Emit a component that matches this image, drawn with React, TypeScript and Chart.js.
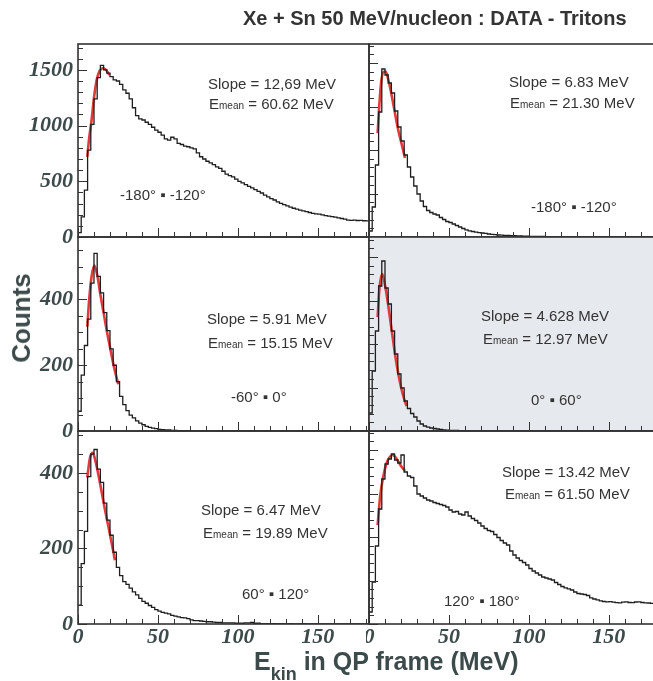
import React, { useEffect, useRef } from "react";
import { Chart, registerables } from "chart.js";

Chart.register(...registerables);

// ---------------- DATA ----------------
const BIN_WIDTH = 2; // MeV per bin, bins start at 0
const X_MAX = 182;
const xTickLabels = [0, 50, 100, 150];

// top-left: -180° - -120°
const countsA = [
  40, 180, 420, 780, 1010, 1240, 1430, 1540, 1500, 1470, 1440, 1410, 1400, 1370, 1320, 1290,
  1240, 1160, 1090, 1060, 1050, 1030, 1010, 985, 960, 940, 915, 880, 870, 895, 880, 840,
  830, 815, 810, 800, 790, 755, 720, 700, 680, 665, 650, 630, 615, 590, 565, 550,
  540, 520, 500, 485, 470, 455, 440, 425, 410, 395, 375, 360, 345, 332, 315, 302,
  290, 280, 268, 258, 250, 242, 235, 228, 220, 212, 208, 205, 198, 192, 188, 182,
  178, 172, 166, 160, 152, 150, 151, 148, 150, 146, 145,
];
const fitXA = [5.8, 7, 8.5, 10, 11.7, 13.5, 15.8, 17.5, 19.6];
const fitYA = [720, 890, 1050, 1250, 1410, 1490, 1515, 1500, 1455];
const yTickLabelsA = [0, 500, 1000, 1500];

// top-right: -180° - -120° (arbitrary units)
const countsB = [
  60, 300, 720, 1250, 1680, 1620, 1540, 1440, 1260, 1100, 960, 820, 700, 600, 510, 430,
  360, 305, 265, 245, 230, 220, 195, 175, 155, 145, 130, 115, 100, 85, 72, 62,
  55, 48, 44, 40, 36, 30, 26, 24, 20, 18, 16, 15, 14, 13, 12, 10,
  9, 8, 7, 6, 6, 5, 5, 4, 4, 3, 3, 3, 2, 2, 2, 2,
  1, 1, 1, 1, 1, 1, 1, 0, 0, 0, 0, 0, 0, 0, 0, 0,
  0, 0, 0, 0, 0, 0, 0, 0, 0, 0, 0,
];
const fitXB = [5.4, 6.5, 7.7, 9, 10.4, 12, 14, 16, 18, 20.4, 22.5];
const fitYB = [1040, 1330, 1560, 1650, 1655, 1580, 1430, 1260, 1090, 930, 790];

// middle-left: -60° - 0°
const countsC = [
  60, 170, 260, 340, 450, 540, 470, 420, 360, 305, 250, 200, 150, 105, 80, 62,
  48, 40, 31, 24, 19, 14, 11, 9, 7, 5, 4, 3, 3, 2, 2, 1,
  1, 1, 0, 0, 0, 0, 0, 0, 0, 0, 0, 0, 0, 0, 0, 0,
  0, 0, 0, 0, 0, 0, 0, 0, 0, 0, 0, 0, 0, 0, 0, 0,
  0, 0, 0, 0, 0, 0, 0, 0, 0, 0, 0, 0, 0, 0, 0, 0,
  0, 0, 0, 0, 0, 0, 0, 0, 0, 0, 0,
];
const fitXC = [5.8, 7, 8.5, 10.2, 12, 14, 16, 18, 20, 22.5, 25.2];
const fitYC = [317, 400, 470, 503, 475, 415, 360, 305, 255, 195, 142];
const yTickLabelsC = [0, 200, 400];

// middle-right: 0° - 60° (arbitrary units)
const countsD = [
  180, 600, 1000, 1450, 1700, 1430, 1270, 1000, 770, 570, 430, 300, 225, 175, 140, 100,
  70, 50, 38, 30, 25, 20, 15, 12, 9, 7, 6, 5, 4, 3, 3, 2,
  2, 1, 1, 1, 0, 0, 0, 0, 0, 0, 0, 0, 0, 0, 0, 0,
  0, 0, 0, 0, 0, 0, 0, 0, 0, 0, 0, 0, 0, 0, 0, 0,
  0, 0, 0, 0, 0, 0, 0, 0, 0, 0, 0, 0, 0, 0, 0, 0,
  0, 0, 0, 0, 0, 0, 0, 0, 0, 0, 0,
];
const fitXD = [5.4, 6.5, 8.3, 10, 12, 14, 16, 18, 20, 22, 23.5];
const fitYD = [1140, 1420, 1570, 1460, 1260, 1030, 800, 600, 440, 320, 250];

// bottom-left: 60° - 120°
const countsE = [
  50, 160, 245, 390, 450, 462, 410, 375, 320, 275, 235, 190, 150, 128, 112, 105,
  95, 85, 77, 68, 60, 55, 49, 44, 38, 34, 31, 29, 27, 23, 21, 19,
  17, 16, 14, 11, 9, 9, 8, 7, 6, 6, 5, 4, 4, 3, 3, 3,
  3, 2, 2, 2, 3, 3, 4, 2, 2, 1, 1, 1, 1, 1, 0, 1,
  0, 0, 1, 0, 0, 0, 1, 0, 0, 0, 0, 0, 0, 0, 0, 0,
  0, 0, 0, 0, 0, 0, 0, 0, 0, 0, 0,
];
const fitXE = [5.8, 7.5, 9.2, 11, 13, 15, 17, 19, 21, 23.1];
const fitYE = [388, 440, 453, 430, 390, 345, 300, 258, 215, 169];
const yTickLabelsE = [0, 200, 400];

// bottom-right: 120° - 180° (arbitrary units)
const countsF = [
  120, 420, 780, 1150, 1450, 1600, 1650, 1700, 1640, 1610, 1690, 1520, 1480, 1465, 1380, 1300,
  1280, 1260, 1240, 1230, 1215, 1205, 1195, 1185, 1170, 1140, 1120, 1125, 1100, 1090, 1120, 1080,
  1055, 1035, 1010, 980, 955, 935, 925, 895, 865, 835, 810, 790, 730, 690, 660, 635,
  615, 590, 555, 530, 510, 490, 470, 460, 450, 440, 415, 395, 375, 362, 352, 340,
  320, 305, 300, 295, 285, 262, 250, 242, 232, 225, 222, 224, 218, 214, 212, 218,
  222, 215, 213, 220, 222, 215, 212, 210, 207, 210, 208,
];
const fitXF = [5.4, 7, 9, 11, 13, 14.6, 16.5, 18.5, 20.5, 22.5];
const fitYF = [990, 1280, 1480, 1610, 1670, 1690, 1670, 1620, 1570, 1530];

const slopeLabels = ["Slope = 12,69 MeV", "Slope = 6.83 MeV", "Slope = 5.91 MeV", "Slope = 4.628 MeV", "Slope = 6.47 MeV", "Slope = 13.42 MeV"];
const emeanValues = ["60.62", "21.30", "15.15", "12.97", "19.89", "61.50"];
const angleLabels = ["-180° ▪ -120°", "-180° ▪ -120°", "-60° ▪ 0°", "0° ▪ 60°", "60° ▪ 120°", "120° ▪ 180°"];

// ---------------- LAYOUT ----------------
const W = 653;
const H = 681;
const COLS = [[78, 369], [369, 660]];
const ROWS = [[44, 237], [237, 431], [431, 624]];
const X_AXIS_H = 30;
const Y_AXIS_W = 78;
const PAD = 3;
const PAD_V = 16;

type PanelCfg = {
  counts: number[];
  fitX: number[];
  fitY: number[];
  yLabels: number[];
  row: number;
  col: number;
  yMax: number;
  minorStep: number;
  majorEvery: number;
  shaded?: boolean;
  text: { slope: [number, number]; emean: [number, number]; angle: [number, number] };
};

const panels: PanelCfg[] = [
  { counts: countsA, fitX: fitXA, fitY: fitYA, yLabels: yTickLabelsA, row: 0, col: 0, yMax: 1732, minorStep: 100, majorEvery: 5,
    text: { slope: [208, 83], emean: [209, 103], angle: [120, 194] } },
  { counts: countsB, fitX: fitXB, fitY: fitYB, yLabels: [], row: 0, col: 1, yMax: 1930, minorStep: 87, majorEvery: 5,
    text: { slope: [509, 81], emean: [510, 102], angle: [531, 206] } },
  { counts: countsC, fitX: fitXC, fitY: fitYC, yLabels: yTickLabelsC, row: 1, col: 0, yMax: 590, minorStep: 50, majorEvery: 4,
    text: { slope: [207, 318], emean: [208, 342], angle: [231, 396] } },
  { counts: countsD, fitX: fitXD, fitY: fitYD, yLabels: [], row: 1, col: 1, yMax: 1940, minorStep: 87, majorEvery: 5, shaded: true,
    text: { slope: [481, 315], emean: [483, 338], angle: [531, 399] } },
  { counts: countsE, fitX: fitXE, fitY: fitYE, yLabels: yTickLabelsE, row: 2, col: 0, yMax: 511, minorStep: 50, majorEvery: 4,
    text: { slope: [201, 509], emean: [203, 532], angle: [242, 593] } },
  { counts: countsF, fitX: fitXF, fitY: fitYF, yLabels: [], row: 2, col: 1, yMax: 1930, minorStep: 87, majorEvery: 5,
    text: { slope: [502, 471], emean: [505, 493], angle: [444, 600] } },
];

const TICK_FONT = { family: "'Liberation Serif', 'DejaVu Serif', serif", size: 22, style: "italic" as const, weight: "bold" as const };
const TICK_COLOR = "#3d4a4a";
const FRAME_COLOR = "#333333";

const framePlugin = {
  id: "frame",
  beforeDraw(chart: any, _args: any, opts: any) {
    if (opts.shaded) {
      const ca = chart.chartArea;
      const ctx = chart.ctx;
      ctx.save();
      ctx.fillStyle = "#e6e9ed";
      ctx.fillRect(ca.left, ca.top, ca.right - ca.left, ca.bottom - ca.top);
      ctx.restore();
    }
  },
  afterDatasetsDraw(chart: any, _args: any, opts: any) {
    const ctx = chart.ctx;
    const ca = chart.chartArea;
    const xs = chart.scales.x;
    const ys = chart.scales.y;
    ctx.save();
    ctx.strokeStyle = FRAME_COLOR;
    ctx.lineWidth = 1;
    for (let i = 0; i * 10 <= xs.max; i++) {
      const px = Math.round(xs.getPixelForValue(i * 10)) + 0.5;
      const len = i % 5 === 0 ? 9 : 5;
      ctx.beginPath();
      ctx.moveTo(px, ca.bottom);
      ctx.lineTo(px, ca.bottom - len);
      ctx.stroke();
    }
    for (let i = 0; i * opts.minorStep <= ys.max; i++) {
      const py = Math.round(ys.getPixelForValue(i * opts.minorStep)) + 0.5;
      const len = i % opts.majorEvery === 0 ? 9 : 5;
      ctx.beginPath();
      ctx.moveTo(ca.left, py);
      ctx.lineTo(ca.left + len, py);
      ctx.stroke();
    }
    ctx.lineWidth = 1.6;
    ctx.strokeRect(ca.left, ca.top, ca.right - ca.left, ca.bottom - ca.top);
    ctx.restore();
  },
};

function HistPanel({ cfg }: { cfg: PanelCfg }) {
  const ref = useRef<HTMLCanvasElement | null>(null);
  const [cl, cr] = COLS[cfg.col];
  const [rt, rb] = ROWS[cfg.row];
  const isLeft = cfg.col === 0;
  const isBottom = cfg.row === 2;
  const padV = isLeft ? PAD_V : PAD;
  const canvasLeft = isLeft ? 0 : cl - PAD;
  const canvasTop = rt - padV;
  const canvasW = cr + PAD - canvasLeft;
  const padBottom = isBottom ? 20 + PAD : padV;
  const canvasH = rb - rt + padV + padBottom + (isBottom ? X_AXIS_H : 0);

  useEffect(() => {
    if (!ref.current) return;
    const hist = cfg.counts.map((c, i) => ({ x: i * BIN_WIDTH, y: c }));
    hist.push({ x: cfg.counts.length * BIN_WIDTH, y: cfg.counts[cfg.counts.length - 1] });
    const fit = cfg.fitX.map((x, i) => ({ x, y: cfg.fitY[i] }));
    const chart = new Chart(ref.current, {
      type: "line",
      data: {
        datasets: [
          {
            data: hist,
            stepped: "before",
            borderColor: "#1e1e1e",
            borderWidth: 1.3,
            pointRadius: 0,
            fill: false,
          },
          {
            data: fit,
            borderColor: "#e23a3a",
            borderWidth: 2.6,
            pointRadius: 0,
            tension: 0.4,
            cubicInterpolationMode: "monotone",
            fill: false,
          },
        ],
      },
      options: {
        animation: false,
        responsive: false,
        devicePixelRatio: 1,
        events: [],
        layout: {
          padding: {
            left: isLeft ? 0 : PAD,
            right: PAD,
            top: padV,
            bottom: padBottom,
          },
        },
        plugins: {
          legend: { display: false },
          tooltip: { enabled: false },
          frame: { shaded: !!cfg.shaded, minorStep: cfg.minorStep, majorEvery: cfg.majorEvery },
        } as any,
        scales: {
          x: {
            type: "linear",
            min: 0,
            max: X_MAX,
            display: isBottom,
            grid: { display: false, drawTicks: false },
            border: { display: false },
            ticks: {
              display: isBottom,
              font: TICK_FONT,
              color: TICK_COLOR,
              padding: 0,
              maxRotation: 0,
              minRotation: 0,
              autoSkip: false,
              callback: (v: any) => String(v),
            },
            afterBuildTicks: (s: any) => {
              s.ticks = xTickLabels.map((v) => ({ value: v }));
            },
            afterFit: (s: any) => {
              s.height = isBottom ? X_AXIS_H : 0;
              s.paddingLeft = 0;
              s.paddingRight = 0;
            },
          },
          y: {
            type: "linear",
            min: 0,
            max: cfg.yMax,
            display: isLeft,
            grid: { display: false, drawTicks: false },
            border: { display: false },
            ticks: {
              display: isLeft,
              font: TICK_FONT,
              color: TICK_COLOR,
              padding: 5,
              autoSkip: false,
              callback: (v: any) => String(v),
            },
            afterBuildTicks: (s: any) => {
              s.ticks = cfg.yLabels.map((v) => ({ value: v }));
            },
            afterFit: (s: any) => {
              s.width = isLeft ? Y_AXIS_W : 0;
              s.paddingTop = 0;
              s.paddingBottom = 0;
            },
          },
        },
      },
      plugins: [framePlugin],
    });
    return () => chart.destroy();
  }, [cfg]);
  return (
    <canvas
      ref={ref}
      width={canvasW}
      height={canvasH}
      style={{ position: "absolute", left: canvasLeft, top: canvasTop, width: canvasW, height: canvasH, display: "block" }}
    />
  );
}

const sans = "'Liberation Sans', Arial, 'DejaVu Sans', sans-serif";
const annStyle = (x: number, y: number): React.CSSProperties => ({
  position: "absolute",
  left: x,
  top: y,
  transform: "translateY(-50%)",
  fontFamily: sans,
  fontSize: 15,
  lineHeight: 1,
  color: "#333",
  whiteSpace: "nowrap",
});

export default function App() {
  return (
    <div
      style={{
        position: "absolute",
        left: 0,
        top: 0,
        width: W,
        height: H,
        overflow: "hidden",
        background: "#ffffff",
      }}
    >
      {panels.map((p, i) => (
        <HistPanel key={i} cfg={p} />
      ))}
      {panels.map((p, i) => (
        <React.Fragment key={"t" + i}>
          <div style={annStyle(p.text.slope[0], p.text.slope[1])}>{slopeLabels[i]}</div>
          <div style={annStyle(p.text.emean[0], p.text.emean[1])}>
            E<span style={{ fontSize: 10 }}>mean</span> = {emeanValues[i]} MeV
          </div>
          <div style={annStyle(p.text.angle[0], p.text.angle[1])}>{angleLabels[i]}</div>
        </React.Fragment>
      ))}
      <div
        style={{
          position: "absolute",
          left: 243,
          top: 18,
          transform: "translateY(-50%)",
          fontFamily: sans,
          fontWeight: "bold",
          fontSize: 20,
          lineHeight: 1,
          color: "#333",
          whiteSpace: "nowrap",
        }}
      >
        Xe + Sn 50 MeV/nucleon : DATA - Tritons
      </div>
      <div
        style={{
          position: "absolute",
          left: 21,
          top: 318,
          transform: "translate(-50%, -50%) rotate(-90deg)",
          fontFamily: sans,
          fontWeight: "bold",
          fontSize: 26,
          lineHeight: 1,
          color: "#3d4a4a",
          whiteSpace: "nowrap",
        }}
      >
        Counts
      </div>
      <div
        style={{
          position: "absolute",
          left: 254,
          top: 649,
          fontFamily: sans,
          fontWeight: "bold",
          fontSize: 25,
          lineHeight: 1,
          color: "#3d4a4a",
          whiteSpace: "nowrap",
        }}
      >
        E<span style={{ fontSize: 18, position: "relative", top: 10 }}>kin</span> in QP frame (MeV)
      </div>
    </div>
  );
}
